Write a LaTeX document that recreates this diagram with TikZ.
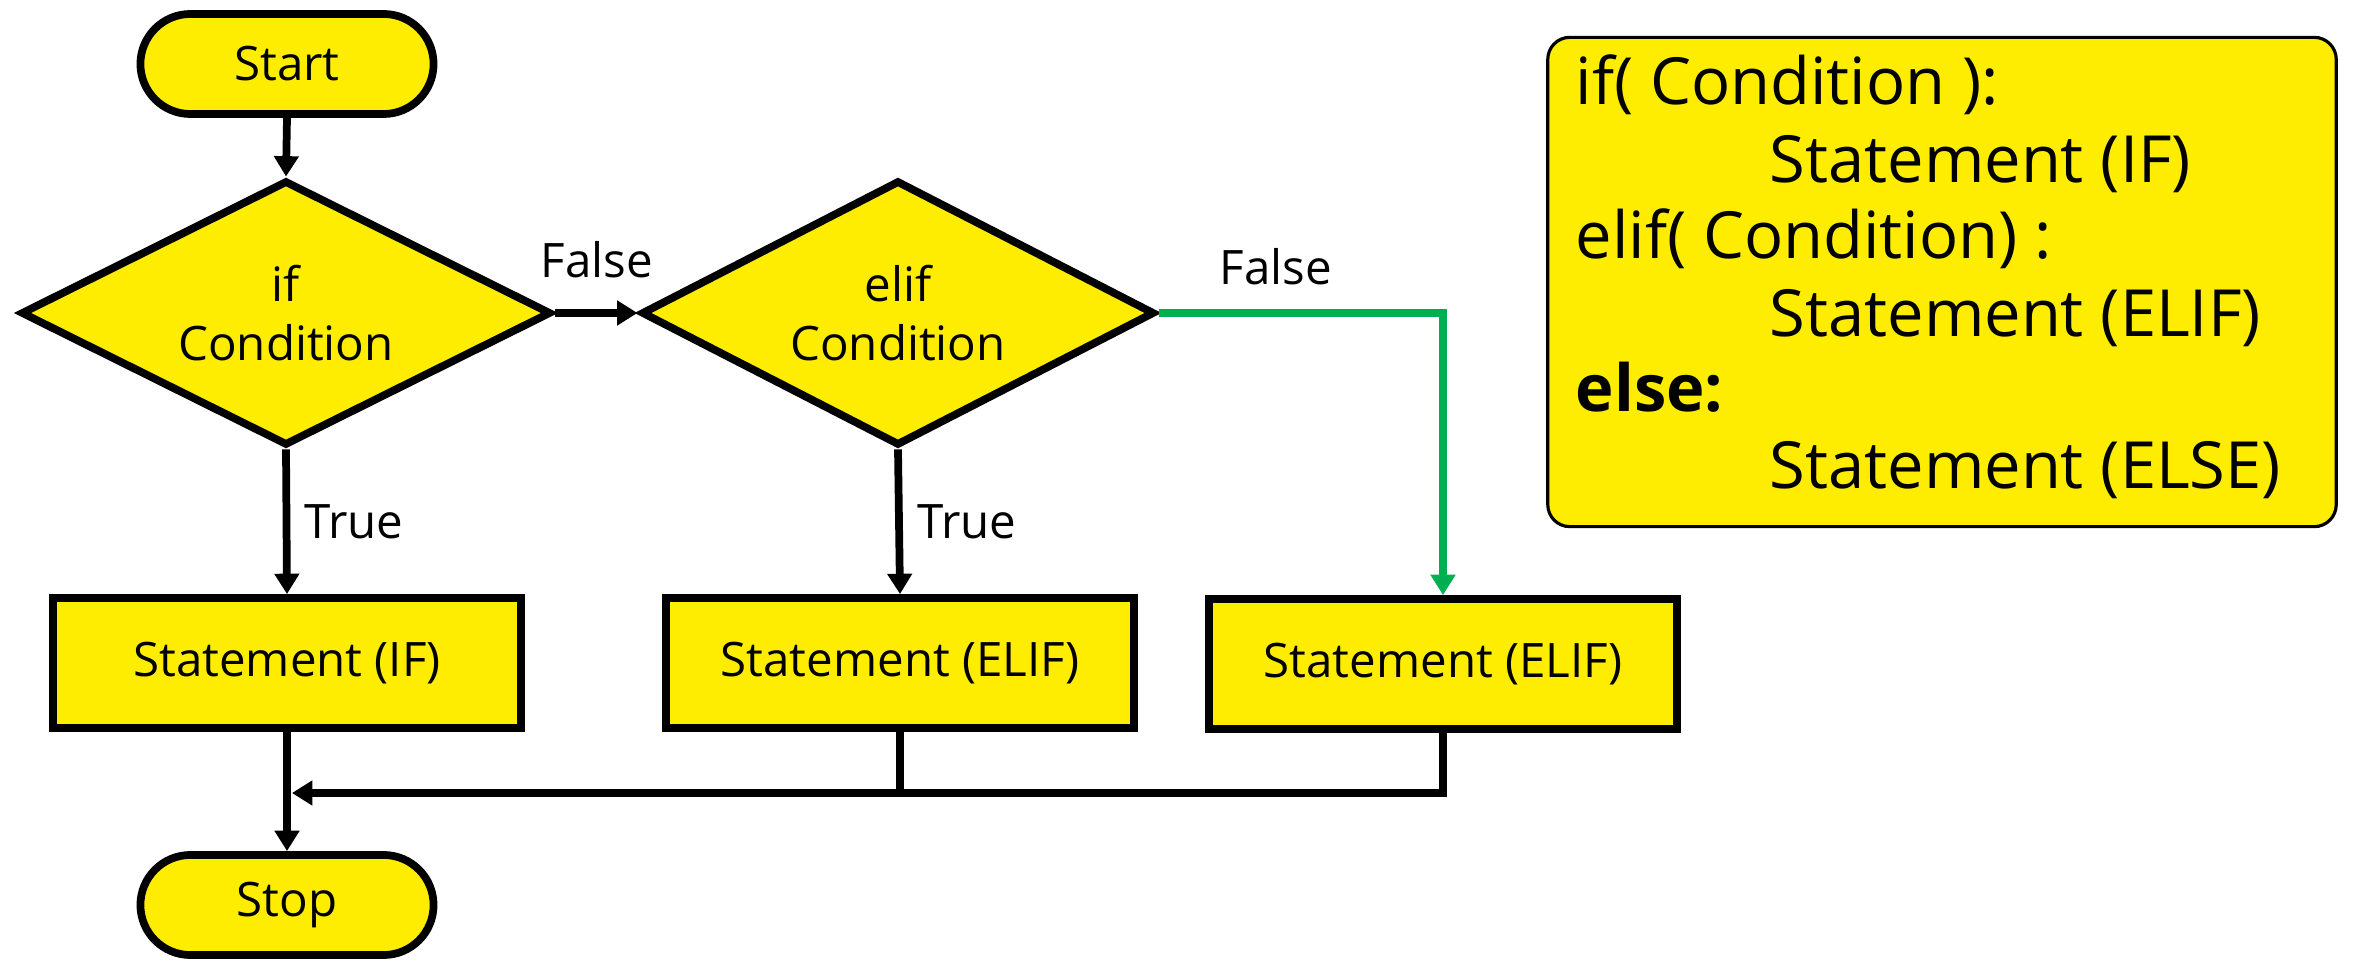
\documentclass[tikz,border=0pt]{standalone}
\usepackage{fontspec}
\setmainfont{Open Sans}
\usetikzlibrary{shapes.geometric,shapes.misc,arrows.meta}
\definecolor{fillyellow}{RGB}{255,237,0}
\definecolor{falsegreen}{RGB}{0,176,80}
\begin{document}
\begin{tikzpicture}[x=0.01cm,y=-0.01cm,
  box/.style={draw=black, line width=2.2pt, fill=fillyellow, font=\fontsize{13.5}{17}\selectfont},
  term/.style={box, rounded rectangle, minimum width=2.93cm, minimum height=1.0cm, inner sep=0},
  decision/.style={box, diamond, shape aspect=2, minimum width=5.3cm, minimum height=2.65cm, inner sep=0, align=center},
  stmt/.style={box, rectangle, minimum width=4.68cm, minimum height=1.30cm, inner sep=0},
  link/.style={line width=2.2pt},
  flow/.style={link, -{Triangle[length=5.8pt,width=6.8pt]}},
  lbl/.style={font=\fontsize{13.5}{17}\selectfont, inner sep=0},
  code/.style={font=\fontsize{18.5}{22}\selectfont, anchor=base west, inner sep=0}]

\useasboundingbox (0,0) rectangle (2354,961);

% flowchart nodes
\node[term] (start) at (287,64) {Start};
\node[decision] (ifd) at (286,313) {if\\Condition};
\node[decision, minimum width=5.13cm] (elifd) at (898,313) {elif\\Condition};
\node[stmt] (sif) at (287,663) {Statement (IF)};
\node[stmt] (selif) at (900,663) {Statement (ELIF)};
\node[stmt] (selse) at (1443,664) {Statement (ELIF)};
\node[term] (stop) at (287,905) {Stop};

% connectors
\draw[flow] (start.south) -- (ifd.north);
\draw[flow] (ifd.east) -- (elifd.west);
\draw[flow] (ifd.south) -- (sif.north);
\draw[flow] (elifd.south) -- (selif.north);
\draw[flow, falsegreen] (elifd.east) -| (selse.north);
\draw[flow] (sif.south) -- (stop.north);
\coordinate (join) at (292,793);
\draw[flow] (selse.south) |- (join);
\draw[link] (selif.south) -- (selif.south |- join);

% branch labels
\node[lbl] (f1) at (597,260) {False};
\node[lbl] (f2) at (1276,267) {False};
\node[lbl] (t1) at (354,522) {True};
\node[lbl] (t2) at (967,522) {True};

% syntax panel
\node[draw=black, line width=0.9pt, rounded corners=0.22cm, fill=fillyellow,
      minimum width=7.88cm, minimum height=4.89cm, inner sep=0] (codebox) at (1942,282) {};
\node[code] (c1) at (1575,105) {if( Condition ):};
\node[code] (c2) at (1769,183) {Statement (IF)};
\node[code] (c3) at (1575,259) {elif( Condition) :};
\node[code] (c4) at (1769,337) {Statement (ELIF)};
\node[code, font=\fontsize{18.5}{22}\selectfont\bfseries] (c5) at (1575,412) {else:};
\node[code] (c6) at (1769,489) {Statement (ELSE)};
\end{tikzpicture}
\end{document}
